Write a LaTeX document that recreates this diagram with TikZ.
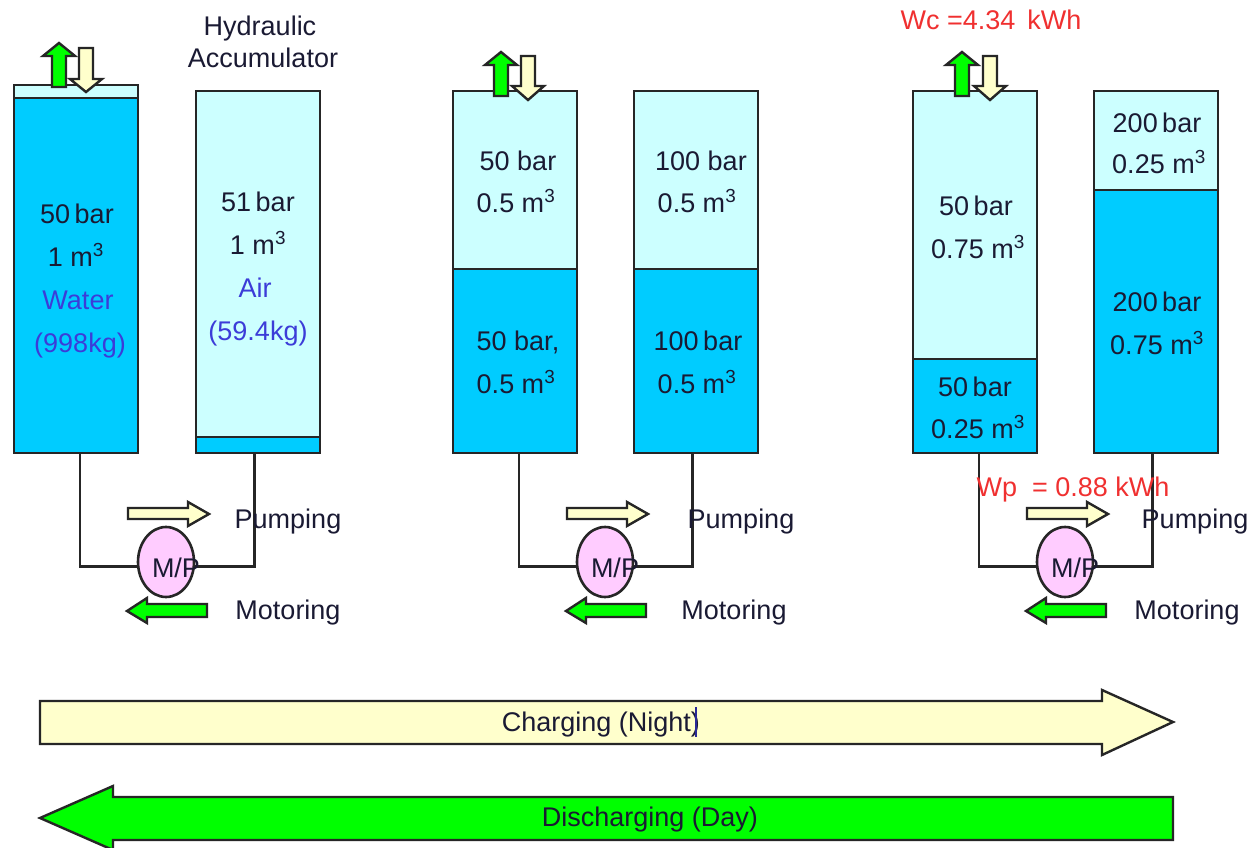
\documentclass[tikz,border=0pt]{standalone}
\usepackage{fontspec}
\setmainfont{Liberation Sans}
\usetikzlibrary{shapes.geometric}
\definecolor{deepw}{HTML}{00CCFF}
\definecolor{lightw}{HTML}{CCFFFF}
\definecolor{pinkp}{HTML}{FFCCFF}
\definecolor{greena}{HTML}{00FF00}
\definecolor{creama}{HTML}{FFFFCC}
\definecolor{inktxt}{HTML}{1A1A33}
\definecolor{bluetxt}{HTML}{3C3CD8}
\definecolor{redtxt}{HTML}{F03030}
\tikzset{
  tankbox/.style={draw=black!85,line width=2.8pt,inner sep=0pt,outer sep=0pt,minimum width=124pt},
  pipe/.style={draw=black!85,line width=2.8pt,line join=miter},
  pumpbody/.style={ellipse,draw=black!85,line width=2.6pt,fill=pinkp,minimum width=56pt,minimum height=70pt,inner sep=0pt,outer sep=0pt},
  arr/.style={draw=black!85,line width=2.4pt,line join=miter},
  lab/.style={text=inktxt,font=\fontsize{27}{30}\selectfont,inner sep=0pt,text height=23pt,text depth=5pt,anchor=center},
  bluelab/.style={lab,text=bluetxt},
  redlab/.style={lab,text=redtxt},
}
% name, left x, top y, divide y, bottom y
\newcommand{\tankpair}[5]{%
  \node[tankbox,fill=lightw,anchor=north west,minimum height={(#4-#3)*1pt}] (#1u) at (#2,#3) {};
  \node[tankbox,fill=deepw,anchor=north west,minimum height={(#5-#4)*1pt}] (#1l) at (#2,#4) {};
}
% up arrow: centre x, tip y, head base y, bottom y
\newcommand{\uparr}[4]{\filldraw[arr,fill=greena] (#1-7,#4) -- (#1-7,#3) -- (#1-16,#3) -- (#1,#2) -- (#1+16,#3) -- (#1+7,#3) -- (#1+7,#4) -- cycle;}
% down arrow: centre x, top y, head base y, tip y
\newcommand{\downarr}[4]{\filldraw[arr,fill=creama] (#1-7,#2) -- (#1-7,#3) -- (#1-16,#3) -- (#1,#4) -- (#1+16,#3) -- (#1+7,#3) -- (#1+7,#2) -- cycle;}
% pump panel: index, pump x, left pipe offset, left tank, right tank
\newcommand{\pumpset}[5]{%
  \node[pumpbody] (p#1) at (#2,562) {};
  \draw[pipe] ([xshift=#3pt]#4l.south) |- (p#1.190);
  \draw[pipe] ([xshift=-3.5pt]#5l.south) |- (p#1.-10);
  \node[lab] (mp#1) at (#2+10,568) {M/P};
  \filldraw[arr,fill=creama] (#2-38,508) -- (#2+22,508) -- (#2+22,502) -- (#2+43,514) -- (#2+22,526) -- (#2+22,519) -- (#2-38,519) -- cycle;
  \filldraw[arr,fill=greena] (#2+41,604) -- (#2-19,604) -- (#2-19,598) -- (#2-39,611) -- (#2-19,623) -- (#2-19,617) -- (#2+41,617) -- cycle;
}
\begin{document}
\begin{tikzpicture}[x=1pt,y=-1pt]
\useasboundingbox (0,0) rectangle (1250,848);
\clip (0,0) rectangle (1250,848);
\fill[white] (0,0) rectangle (1250,848);
% tanks
\tankpair{a}{14}{85}{98}{453}
\tankpair{b}{196}{91}{437}{453}
\tankpair{c}{453}{91}{269}{453}
\tankpair{d}{634}{91}{269}{453}
\tankpair{e}{913}{91}{359}{453}
\tankpair{f}{1094}{91}{190}{453}
% small arrows
\uparr{59}{43}{56}{87}
\downarr{86}{48}{79}{92}
\uparr{501}{52}{65}{96}
\downarr{528}{56}{86}{100}
\uparr{962}{52}{65}{96}
\downarr{990}{56}{86}{100}
% pumps and pipes
\pumpset{1}{166}{4}{a}{b}
\pumpset{2}{605}{4}{c}{d}
\pumpset{3}{1065}{4}{e}{f}
% tank labels
\node[lab] (t1) at (77,214) {50\,bar};
\node[lab] (t2) at (76,257) {1 m\textsuperscript{3}};
\node[bluelab] (t3) at (78,300) {Water};
\node[bluelab] (t4) at (80,343) {(998kg)};
\node[lab] (t5) at (258,202) {51\,bar};
\node[lab] (t6) at (258,245) {1 m\textsuperscript{3}};
\node[bluelab] (t7) at (255,288) {Air};
\node[bluelab] (t8) at (258,331) {(59.4kg)};
\node[lab] (t9) at (518,161) {50 bar};
\node[lab] (t10) at (516,203) {0.5 m\textsuperscript{3}};
\node[lab] (t11) at (518,341) {50 bar,};
\node[lab] (t12) at (516,384) {0.5 m\textsuperscript{3}};
\node[lab] (t13) at (701,161) {100 bar};
\node[lab] (t14) at (697,203) {0.5 m\textsuperscript{3}};
\node[lab] (t15) at (698,341) {100\,bar};
\node[lab] (t16) at (697,384) {0.5 m\textsuperscript{3}};
\node[lab] (t17) at (976,206) {50\,bar};
\node[lab] (t18) at (978,249) {0.75 m\textsuperscript{3}};
\node[lab] (t19) at (975,387) {50\,bar};
\node[lab] (t20) at (978,429) {0.25 m\textsuperscript{3}};
\node[lab] (t21) at (1157,123) {200\,bar};
\node[lab] (t22) at (1159,164) {0.25 m\textsuperscript{3}};
\node[lab] (t23) at (1157,302) {200\,bar};
\node[lab] (t24) at (1157,345) {0.75 m\textsuperscript{3}};
% header labels
\node[lab] (h1) at (260,27) {Hydraulic};
\node[lab] (h2) at (263,59) {Accumulator};
\node[redlab] (wc) at (991,21) {Wc =4.34\, kWh};
\node[redlab] (wp) at (1073,487) {Wp\ \ = 0.88 kWh};
% pump labels
\node[lab] (pm1) at (288,519) {Pumping};
\node[lab] (pm2) at (741,519) {Pumping};
\node[lab] (pm3) at (1195,519) {Pumping};
\node[lab] (mo1) at (288,610) {Motoring};
\node[lab] (mo2) at (734,610) {Motoring};
\node[lab] (mo3) at (1187,610) {Motoring};
% big arrows
\filldraw[arr,fill=creama] (40,701) -- (1102,701) -- (1102,690) -- (1173,722) -- (1102,755) -- (1102,744) -- (40,744) -- cycle;
\node[lab] (chg) at (601,722) {Charging (Night)};
\draw[bluetxt!70!black,line width=1.2pt] (696,707) -- (696,737);
\filldraw[arr,fill=greena] (1173,797) -- (113,797) -- (113,786) -- (40,818) -- (113,850) -- (113,840) -- (1173,840) -- cycle;
\node[lab] (dis) at (650,817) {Discharging (Day)};
\end{tikzpicture}
\end{document}
